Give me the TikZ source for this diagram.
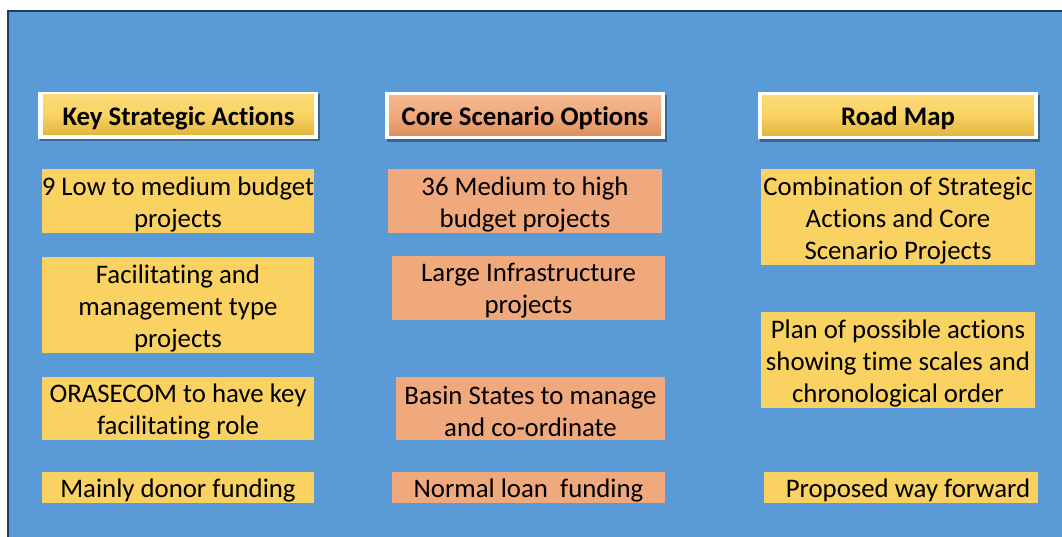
\documentclass[tikz,border=0pt]{standalone}
\usepackage{fontspec}
\setmainfont{Carlito}[Ligatures=NoCommon]
\usetikzlibrary{shadows}
\definecolor{bgblue}{HTML}{5A9AD6}
\definecolor{navy}{HTML}{1F3864}
\definecolor{boxyel}{HTML}{F9D262}
\definecolor{boxorg}{HTML}{F0A97C}
\definecolor{yeltop}{HTML}{FBDB78}
\definecolor{yelbot}{HTML}{E2B53E}
\definecolor{orgtop}{HTML}{F5B78E}
\definecolor{orgbot}{HTML}{DC905F}
\tikzset{
  txt/.style={font=\fontsize{26.8}{32}\selectfont, text=black, align=center, inner sep=0pt, yshift=-3pt},
  btxt/.style={txt, font=\fontsize{26.8}{32}\selectfont\bfseries},
  cell/.style={draw=none, inner sep=0pt, minimum width=#1},
  yel/.style={fill=boxyel},
  org/.style={fill=boxorg},
  hframe/.style={fill=white, draw=none, minimum width=280pt, minimum height=47pt, inner sep=0pt,
    drop shadow={shadow xshift=1.5pt, shadow yshift=-2.5pt, opacity=0.35, fill=black}},
  hyel/.style={inner sep=0pt, minimum height=40pt, top color=yeltop, bottom color=yelbot, middle color=boxyel},
  horg/.style={inner sep=0pt, minimum height=40pt, top color=orgtop, bottom color=orgbot, middle color=boxorg},
}
\begin{document}
\begin{tikzpicture}[x=1pt, y=-1pt]
\useasboundingbox (0,0) rectangle (1062,537);
\begin{scope}
\clip (0,0) rectangle (1062,537);
\draw[navy, line width=2pt, fill=bgblue] (8,11) rectangle (1075,550);
\end{scope}

% headers
\node[hframe] (h1) at (178,115.5) {};
\node[hyel, minimum width=271pt, label={[btxt]center:Key Strategic Actions}] (h1i) at (178.5,115) {};
\node[hframe] (h2) at (525,116) {};
\node[horg, minimum width=272pt, label={[btxt]center:Core Scenario Options}] (h2i) at (525,115.5) {};
\node[hframe] (h3) at (898,116) {};
\node[hyel, minimum width=272pt, label={[btxt]center:Road Map}] (h3i) at (898,115.5) {};

% left column
\node[cell=272pt, yel, minimum height=64pt, label={[txt]center:{9 Low to medium budget\\projects}}] (a1) at (178,201) {};
\node[cell=272pt, yel, minimum height=96pt, label={[txt]center:{Facilitating and\\management type\\projects}}] (a2) at (178,305) {};
\node[cell=272pt, yel, minimum height=63pt, label={[txt]center:{ORASECOM to have key\\facilitating role}}] (a3) at (178,408.5) {};
\node[cell=272pt, yel, minimum height=31pt, label={[txt]center:{Mainly donor funding}}] (a4) at (178,487.5) {};

% middle column
\node[cell=274pt, org, minimum height=64pt, label={[txt]center:{36 Medium to high\\budget projects}}] (b1) at (525,201) {};
\node[cell=273pt, org, minimum height=64pt, label={[txt]center:{Large Infrastructure\\projects}}] (b2) at (528.5,288) {};
\node[cell=269pt, org, minimum height=63pt, label={[txt]center:{Basin States to manage\\and co-ordinate}}] (b3) at (530.5,408.5) {};
\node[cell=273pt, org, minimum height=31pt, label={[txt]center:{Normal loan\ \ funding}}] (b4) at (528.5,487.5) {};

% right column
\node[cell=274pt, yel, minimum height=96pt, label={[txt]center:{Combination of Strategic\\Actions and Core\\Scenario Projects}}] (c1) at (898,217) {};
\node[cell=274pt, yel, minimum height=96pt, label={[txt]center:{Plan of possible actions\\showing time scales and\\chronological order}}] (c2) at (898,360) {};
\node[cell=274pt, yel, minimum height=31pt, label={[txt]center:{\hspace{14pt}Proposed way forward}}] (c3) at (901,487.5) {};
\end{tikzpicture}
\end{document}
